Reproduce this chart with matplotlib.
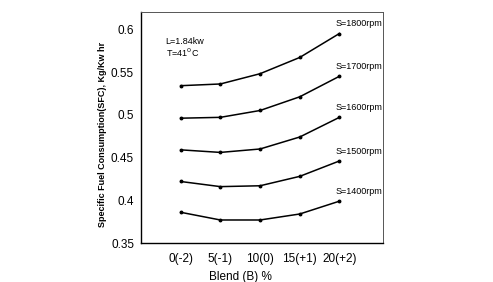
import matplotlib

matplotlib.use("Agg")
import matplotlib.pyplot as plt

plt.rcParams["font.family"] = ["Liberation Sans", "DejaVu Sans"]

blend = [0, 5, 10, 15, 20]
blend_labels = ["0(-2)", "5(-1)", "10(0)", "15(+1)", "20(+2)"]

sfc_1800 = [0.534, 0.536, 0.548, 0.567, 0.595]
sfc_1700 = [0.496, 0.497, 0.505, 0.521, 0.545]
sfc_1600 = [0.459, 0.456, 0.460, 0.474, 0.497]
sfc_1500 = [0.422, 0.416, 0.417, 0.428, 0.446]
sfc_1400 = [0.386, 0.377, 0.377, 0.384, 0.399]

series = [
    ("S=1800rpm", sfc_1800),
    ("S=1700rpm", sfc_1700),
    ("S=1600rpm", sfc_1600),
    ("S=1500rpm", sfc_1500),
    ("S=1400rpm", sfc_1400),
]

fig = plt.figure(figsize=(4.93, 2.82), dpi=100)
ax = fig.add_axes([0.286, 0.138, 0.491, 0.819])

for name, vals in series:
    ax.plot(blend, vals, color="black", lw=1.1, marker="o", ms=1.8)
    ax.annotate(name, (blend[-1], vals[-1]), xytext=(-3, 7),
                textcoords="offset points", ha="left", va="center",
                fontsize=6.5)

ax.text(-1.9, 0.586, "L=1.84kw", fontsize=6.5, va="center")
ax.text(-1.9, 0.573, "T=41$^0$C", fontsize=6.5, va="center")

ax.set_xlim(-5, 25.5)
ax.set_ylim(0.35, 0.62)
ax.set_xticks(blend)
ax.set_xticklabels(blend_labels)
ax.set_yticks([0.35, 0.4, 0.45, 0.5, 0.55, 0.6])
ax.set_yticklabels(["0.35", "0.4", "0.45", "0.5", "0.55", "0.6"])
ax.tick_params(axis="both", length=0, labelsize=8.5)
ax.tick_params(axis="x", pad=7)
ax.tick_params(axis="y", pad=5)

for side in ["top", "right"]:
    ax.spines[side].set_linewidth(0.7)
    ax.spines[side].set_color("#555555")
for side in ["left", "bottom"]:
    ax.spines[side].set_linewidth(1.0)

ax.set_xlabel("Blend (B) %", fontsize=8.5, va="center")
ax.xaxis.set_label_coords(0.41, -0.145)
ax.set_ylabel("Specific Fuel Consumption(SFC), Kg/Kw hr", fontsize=6.5,
              fontweight="bold", va="center")
ax.yaxis.set_label_coords(-0.16, 0.47)

plt.savefig("out.png", dpi=100)
